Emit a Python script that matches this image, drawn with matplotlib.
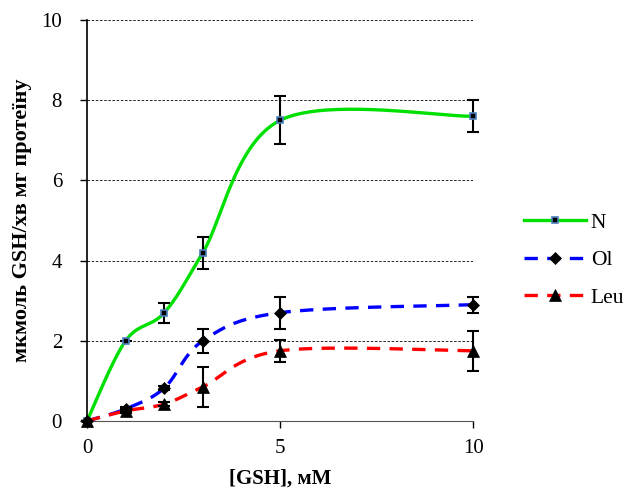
import numpy as np
import matplotlib
matplotlib.use("Agg")
import matplotlib.pyplot as plt

plt.rcParams['font.family'] = ['Liberation Serif', 'DejaVu Serif']

# дані
conc = [0, 1, 2, 3, 5, 10]
n_vals = [0.0, 2.0, 2.7, 4.2, 7.5, 7.6]
n_err = [0.0, 0.0, 0.25, 0.4, 0.6, 0.4]
ol_vals = [0.0, 0.3, 0.82, 2.0, 2.7, 2.9]
ol_err = [0.0, 0.05, 0.05, 0.3, 0.4, 0.2]
leu_vals = [0.0, 0.25, 0.42, 0.85, 1.75, 1.75]
leu_err = [0.0, 0.05, 0.05, 0.5, 0.28, 0.5]

series_names = ['N', 'Ol', 'Leu']


def smooth(xs, ys, steps=40):
    # згладжена лінія як в Excel (Безьє через сусідні точки)
    xs = np.asarray(xs, float)
    ys = np.asarray(ys, float)
    pts = np.column_stack([xs, ys])
    out = []
    n = len(pts)
    for i in range(n - 1):
        p0 = pts[i - 1] if i > 0 else pts[i]
        p1 = pts[i]
        p2 = pts[i + 1]
        p3 = pts[i + 2] if i + 2 < n else pts[i + 1]
        c1 = p1 + (p2 - p0) / 6.0
        c2 = p2 - (p3 - p1) / 6.0
        t = np.linspace(0, 1, steps)[:, None]
        seg = ((1 - t) ** 3) * p1 + 3 * ((1 - t) ** 2) * t * c1 + 3 * (1 - t) * t ** 2 * c2 + t ** 3 * p2
        out.append(seg if i == 0 else seg[1:])
    out = np.vstack(out)
    return out[:, 0], out[:, 1]


fig = plt.figure(figsize=(6.26, 4.90), dpi=100)
ax = fig.add_axes([0.139, 0.141, 0.617, 0.818])

styles = [
    dict(color='#00e000', ls='-', marker='s', ms=5, mfc='black', mec='#4f81bd', mew=1.2, vals=n_vals, err=n_err),
    dict(color='#0000ff', ls=(0, (4, 2.8)), marker='D', ms=6, mfc='black', mec='black', mew=0.5, vals=ol_vals, err=ol_err),
    dict(color='#ff0000', ls=(0, (4, 2.8)), marker='^', ms=8, mfc='black', mec='black', mew=0.5, vals=leu_vals, err=leu_err),
]

handles = []
for name, st in zip(series_names, styles):
    sx, sy = smooth(conc, st['vals'])
    ax.plot(sx, sy, color=st['color'], ls=st['ls'], lw=2.4, zorder=3, clip_on=False)
    ax.errorbar(conc, st['vals'], yerr=st['err'], fmt='none', ecolor='black',
                elinewidth=1.5, capsize=4, capthick=1.5, zorder=4, clip_on=False)
    ax.plot(conc, st['vals'], ls='none', marker=st['marker'], ms=st['ms'],
            mfc=st['mfc'], mec=st['mec'], mew=st['mew'], zorder=5, clip_on=False)
    h, = ax.plot([], [], color=st['color'], ls=st['ls'], lw=2.4, marker=st['marker'],
                 ms=st['ms'], mfc=st['mfc'], mec=st['mec'], mew=st['mew'])
    handles.append(h)

ax.set_xlim(0, 10)
ax.set_ylim(0, 10)
ax.set_xticks([0, 5, 10])
ax.set_yticks([0, 2, 4, 6, 8, 10])
ax.yaxis.grid(True, color='black', ls=(0, (3, 2)), lw=0.6)
ax.set_axisbelow(True)
ax.spines['top'].set_visible(False)
ax.spines['right'].set_visible(False)
ax.spines['left'].set_linewidth(1.2)
ax.spines['bottom'].set_color('#555555')
ax.tick_params(axis='both', labelsize=15, direction='out', length=5, width=1)
ax.tick_params(axis='y', pad=13)
ax.tick_params(axis='x', pad=8)

ax.set_xlabel('[GSH], мМ', fontsize=15, fontweight='bold', labelpad=8)
ax.set_ylabel('мкмоль GSH/хв мг протеїну', fontsize=16, fontweight='bold', labelpad=7)

fig.legend(handles, series_names, loc='center left', bbox_to_anchor=(0.806, 0.469),
           frameon=False, fontsize=15.5, handlelength=2.9, handletextpad=0.2, labelspacing=0.8)

fig.savefig('out.png', dpi=100)
